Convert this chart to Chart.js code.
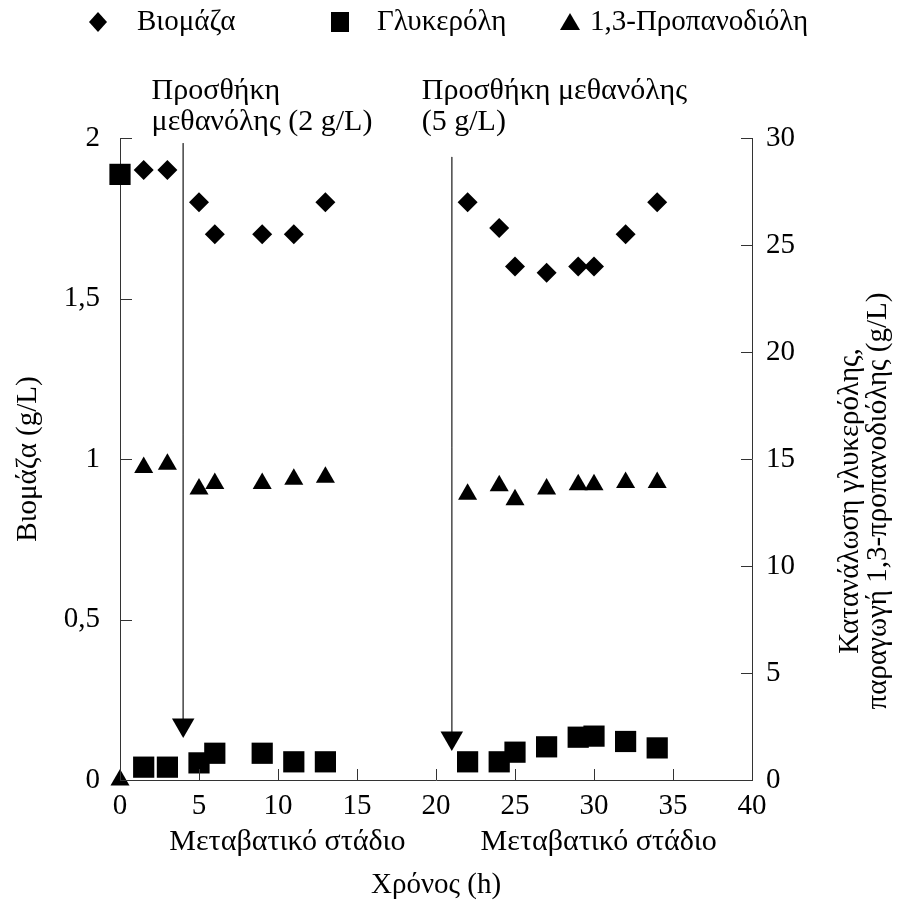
<!DOCTYPE html>
<html>
<head>
<meta charset="utf-8">
<script src="https://cdn.jsdelivr.net/npm/chart.js@4"></script>
<style>
  html, body { margin: 0; padding: 0; background: #fff; }
</style>
</head>
<body>
<canvas id="chart" width="907" height="905"></canvas>
<script>
// series names (legend)
const seriesNames = ['Βιομάζα', 'Γλυκερόλη', '1,3-Προπανοδιόλη'];

// biomass, left axis (g/L)
const biomassTime = [1.5, 3, 5, 6, 9, 11, 13, 22, 24, 25, 27, 29, 30, 32, 34];
const biomass = [1.9, 1.9, 1.8, 1.7, 1.7, 1.7, 1.8, 1.8, 1.72, 1.6, 1.58, 1.6, 1.6, 1.7, 1.8];

// glycerol, right axis (g/L)
const glycerolTime = [0, 1.5, 3, 5, 6, 9, 11, 13, 22, 24, 25, 27, 29, 30, 32, 34];
const glycerol = [28.3, 0.6, 0.6, 0.8, 1.25, 1.25, 0.85, 0.85, 0.85, 0.85, 1.3, 1.55, 2.0, 2.05, 1.8, 1.5];

// 1,3-propanediol, right axis (g/L)
const pdoTime = [0, 1.5, 3, 5, 6, 9, 11, 13, 22, 24, 25, 27, 29, 30, 32, 34];
const pdo = [0, 14.6, 14.75, 13.6, 13.85, 13.85, 14.05, 14.15, 13.35, 13.75, 13.1, 13.6, 13.8, 13.8, 13.9, 13.9];

// methanol additions (arrows), in left axis units
const additionTime = [4, 21];
const arrowTop = [1.984, 1.941];
const arrowTip = [0.171, 0.131];
const additionLabels = [['Προσθήκη', 'μεθανόλης (2 g/L)'], ['Προσθήκη μεθανόλης', '(5 g/L)']];
const additionLabelTime = [2, 19.1];

// transition stage labels under the axis
const stageLabel = 'Μεταβατικό στάδιο';
const stageTime = [10.6, 30.3];

// tick labels
const xTicks = ['0', '5', '10', '15', '20', '25', '30', '35', '40'];
const yLeftTicks = ['0', '0,5', '1', '1,5', '2'];
const yRightTicks = ['0', '5', '10', '15', '20', '25', '30'];

const xTitle = 'Χρόνος (h)';
const yLeftTitle = 'Βιομάζα (g/L)';
const yRightTitle = ['Κατανάλωση γλυκερόλης,', 'παραγωγή 1,3-προπανοδιόλης (g/L)'];

const FONT = "'Liberation Serif', 'Times New Roman', serif";
const SIZE = 29;
const INK = '#000';
const AXIS = '#333';

function pts(xs, ys) {
    return xs.map((x, i) => ({ x: x, y: ys[i] }));
}

// arrow datasets: vertical line ending in a downward triangle
const arrowSets = additionTime.map((t, i) => ({
    label: 'arrow' + i,
    data: [{ x: t, y: arrowTop[i] }, { x: t, y: arrowTip[i] }],
    yAxisID: 'y',
    showLine: true,
    borderColor: '#555',
    borderWidth: 1,
    pointRadius: [0, 13],
    pointStyle: 'triangle',
    rotation: 180,
    backgroundColor: INK,
    pointBorderWidth: 0,
    clip: false
}));

// draws inward ticks, legend, right title and annotation texts
const extras = {
    id: 'extras',
    afterDraw(chart) {
        const { ctx, chartArea, scales } = chart;
        const x = scales.x, yl = scales.y, yr = scales.y2;
        ctx.save();
        ctx.strokeStyle = AXIS;
        ctx.lineWidth = 1;
        ctx.beginPath();
        yl.ticks.forEach(t => {
            const py = Math.round(yl.getPixelForValue(t.value)) + 0.5;
            ctx.moveTo(chartArea.left, py);
            ctx.lineTo(chartArea.left + 12, py);
        });
        yr.ticks.forEach(t => {
            const py = Math.round(yr.getPixelForValue(t.value)) + 0.5;
            ctx.moveTo(chartArea.right, py);
            ctx.lineTo(chartArea.right - 11, py);
        });
        x.ticks.forEach(t => {
            const px = Math.round(x.getPixelForValue(t.value)) + 0.5;
            ctx.moveTo(px, chartArea.bottom);
            ctx.lineTo(px, chartArea.bottom - 11);
        });
        ctx.stroke();

        ctx.fillStyle = INK;
        // legend
        const ly = 22;
        const lx = [98, 340, 570];
        ctx.beginPath();
        ctx.moveTo(lx[0], ly - 10); ctx.lineTo(lx[0] + 9, ly); ctx.lineTo(lx[0], ly + 10); ctx.lineTo(lx[0] - 9, ly);
        ctx.closePath(); ctx.fill();
        ctx.fillRect(lx[1] - 9, ly - 10, 18, 20);
        ctx.beginPath();
        ctx.moveTo(lx[2], ly - 9); ctx.lineTo(lx[2] + 10, ly + 8); ctx.lineTo(lx[2] - 10, ly + 8);
        ctx.closePath(); ctx.fill();
        ctx.font = '29px ' + FONT;
        ctx.textBaseline = 'middle';
        ctx.textAlign = 'left';
        ctx.fillText(seriesNames[0], 137, ly);
        ctx.fillText(seriesNames[1], 377, ly);
        ctx.fillText(seriesNames[2], 590, ly);

        // annotations
        ctx.font = '30px ' + FONT;
        additionLabels.forEach((lines, i) => {
            const px = x.getPixelForValue(additionLabelTime[i]);
            ctx.fillText(lines[0], px, chartArea.top - 47);
            ctx.fillText(lines[1], px, chartArea.top - 16);
        });

        ctx.textAlign = 'center';
        stageTime.forEach(t => {
            ctx.fillText(stageLabel, x.getPixelForValue(t), chartArea.bottom + 62);
        });

        // right axis title, reading bottom to top
        ctx.font = SIZE + 'px ' + FONT;
        const cy = (chartArea.top + chartArea.bottom) / 2 + 42;
        yRightTitle.forEach((line, i) => {
            ctx.save();
            ctx.translate(chartArea.right + 98 + i * 28, cy);
            ctx.rotate(-Math.PI / 2);
            ctx.fillText(line, 0, 0);
            ctx.restore();
        });
        ctx.restore();
    }
};

const chart = new Chart(document.getElementById('chart'), {
    type: 'scatter',
    data: {
        datasets: [
            {
                label: seriesNames[0],
                data: pts(biomassTime, biomass),
                yAxisID: 'y',
                pointStyle: 'rectRot',
                pointRadius: 10,
                backgroundColor: INK,
                borderWidth: 0,
                clip: false
            },
            {
                label: seriesNames[1],
                data: pts(glycerolTime, glycerol),
                yAxisID: 'y2',
                pointStyle: 'rect',
                pointRadius: 15,
                backgroundColor: INK,
                borderWidth: 0,
                clip: false
            },
            {
                label: seriesNames[2],
                data: pts(pdoTime, pdo),
                yAxisID: 'y2',
                pointStyle: 'triangle',
                pointRadius: 11,
                backgroundColor: INK,
                borderWidth: 0,
                clip: false
            },
            ...arrowSets
        ]
    },
    options: {
        responsive: false,
        animation: false,
        events: [],
        layout: { padding: { top: 138, left: 0, right: 0, bottom: 0 } },
        plugins: {
            legend: { display: false },
            tooltip: { enabled: false }
        },
        scales: {
            x: {
                type: 'linear',
                min: 0,
                max: 40,
                grid: { display: false, drawTicks: false },
                border: { display: true, color: AXIS, width: 1 },
                ticks: {
                    stepSize: 5,
                    padding: 9,
                    color: INK,
                    font: { family: FONT, size: SIZE },
                    callback: (v, i) => xTicks[i]
                },
                title: {
                    display: true,
                    text: xTitle,
                    color: INK,
                    font: { family: FONT, size: SIZE },
                    padding: { top: 0, bottom: 2 }
                },
                afterFit: (s) => { s.height = 125; }
            },
            y: {
                type: 'linear',
                position: 'left',
                min: 0,
                max: 2,
                grid: { display: false, drawTicks: false },
                border: { display: true, color: AXIS, width: 1 },
                ticks: {
                    stepSize: 0.5,
                    padding: 20,
                    color: INK,
                    font: { family: FONT, size: SIZE },
                    callback: (v, i) => yLeftTicks[i]
                },
                title: {
                    display: true,
                    text: yLeftTitle,
                    color: INK,
                    font: { family: FONT, size: SIZE },
                    padding: { top: 11, bottom: 0 }
                },
                afterFit: (s) => { s.width = 120; }
            },
            y2: {
                type: 'linear',
                position: 'right',
                min: 0,
                max: 30,
                grid: { display: false, drawTicks: false },
                border: { display: true, color: AXIS, width: 1 },
                ticks: {
                    stepSize: 5,
                    padding: 14,
                    color: INK,
                    font: { family: FONT, size: SIZE },
                    callback: (v, i) => yRightTicks[i]
                },
                afterFit: (s) => { s.width = 155; }
            }
        }
    },
    plugins: [extras]
});
</script>
</body>
</html>
